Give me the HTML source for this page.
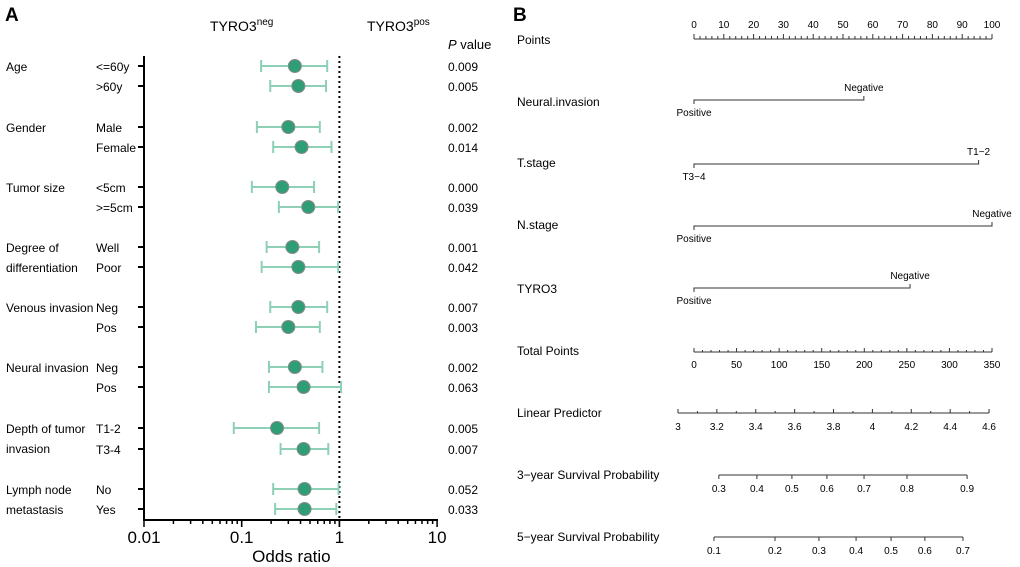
<!DOCTYPE html>
<html><head><meta charset="utf-8"><style>
body{margin:0;background:#fff;}
svg{display:block;font-family:"Liberation Sans",Arial,sans-serif;}
</style></head><body>
<svg id="c" width="1020" height="567" viewBox="0 0 1020 567" xmlns="http://www.w3.org/2000/svg">
<text x="5" y="21" font-size="19" font-weight="bold">A</text>
<text x="513" y="21" font-size="19" font-weight="bold">B</text>
<text x="210" y="31" font-size="14">TYRO3<tspan dy="-6" font-size="10">neg</tspan></text>
<text x="367" y="31" font-size="14">TYRO3<tspan dy="-6" font-size="10">pos</tspan></text>
<text x="448" y="49" font-size="13"><tspan font-style="italic">P</tspan> value</text>
<g id="forest"></g>
<g id="nomo"></g>
</svg>
<script>
const groups=["Age","","Gender","","Tumor size","","Degree of|differentiation","","Venous invasion","","Neural invasion","","Depth of tumor|invasion","","Lymph node|metastasis",""];
const subgroups=["<=60y",">60y","Male","Female","<5cm",">=5cm","Well","Poor","Neg","Pos","Neg","Pos","T1-2","T3-4","No","Yes"];
const orValues=[0.35,0.38,0.30,0.41,0.26,0.48,0.33,0.38,0.38,0.30,0.35,0.43,0.23,0.43,0.44,0.44];
const ciLow=[0.158,0.196,0.143,0.21,0.127,0.24,0.18,0.16,0.196,0.14,0.19,0.19,0.083,0.25,0.21,0.22];
const ciHigh=[0.75,0.73,0.63,0.83,0.55,0.97,0.62,0.97,0.75,0.63,0.67,1.04,0.62,0.77,0.98,0.93];
const pValues=["0.009","0.005","0.002","0.014","0.000","0.039","0.001","0.042","0.007","0.003","0.002","0.063","0.005","0.007","0.052","0.033"];
const xTicks=[0.01,0.1,1,10];
const rowY=[66,86,127,147,187,207,247,267,307,327,367,387,428,449,489,509];

const NS="http://www.w3.org/2000/svg";
function mk(p,t,a,txt){const e=document.createElementNS(NS,t);for(const k in a)e.setAttribute(k,a[k]);if(txt!==undefined)e.textContent=txt;p.appendChild(e);return e;}
const fx=v=>144+(Math.log10(v)+2)*97.7;
const F=document.getElementById('forest');
let e=mk(F,'line',{x1:144,y1:56,x2:144,y2:521,stroke:'#000','stroke-width':2});


e=mk(F,'line',{x1:143,y1:520,x2:438,y2:520,stroke:'#000','stroke-width':2});


e=mk(F,'line',{x1:fx(1),y1:56,x2:fx(1),y2:520,stroke:'#000','stroke-width':2,'stroke-dasharray':'2,3'});


for(let d=-2;d<1;d++)for(let m=1;m<=10;m++){const v=m*Math.pow(10,d);const x=fx(v);
 e=mk(F,'line',{x1:x,y1:520,x2:x,y2:m==1||m==10?527:524,stroke:'#000','stroke-width':1.5});
 
 }
xTicks.forEach(v=>{e=mk(F,'text',{x:fx(v),y:543,'font-size':17,'text-anchor':'middle'},String(v));
 
 });
e=mk(F,'text',{x:fx(1)-48,y:562,'font-size':17,'text-anchor':'middle'},'Odds ratio');


subgroups.forEach((s,i)=>{const y=rowY[i];
 if(groups[i]){const parts=groups[i].split('|');parts.forEach((p,j)=>{
  e=mk(F,'text',{x:6,y:y+5+j*20,'font-size':12},p);
  
  });}
 e=mk(F,'text',{x:96,y:y+5,'font-size':12},s);
 
 
 e=mk(F,'line',{x1:138,y1:y,x2:144,y2:y,stroke:'#000','stroke-width':2});
 
 
 const lo=fx(ciLow[i]),hi=fx(ciHigh[i]);
 e=mk(F,'path',{d:`M${lo},${y}H${hi}M${lo},${y-6}V${y+6}M${hi},${y-6}V${y+6}`,stroke:'#8dd0b6','stroke-width':2,fill:'none'});
 
 
 e=mk(F,'circle',{cx:fx(orValues[i]),cy:y,r:6.5,fill:'#2f9e77',stroke:'#8a8a8a','stroke-width':1});
 
 
 e=mk(F,'text',{x:448,y:y+5,'font-size':12},pValues[i]);
 
 
});

// Nomogram
const pointsTicks=[0,10,20,30,40,50,60,70,80,90,100];
const neuralPts=[57,0]; const tstagePts=[95.5,0]; const nstagePts=[100,0]; const tyroPts=[72.5,0];
const totalTicks=[0,50,100,150,200,250,300,350];
const lpTicks=[3,3.2,3.4,3.6,3.8,4,4.2,4.4,4.6];
const surv3Ticks=[0.3,0.4,0.5,0.6,0.7,0.8,0.9];
const surv3Lp=[3.21,3.406,3.586,3.766,3.957,4.178,4.487];
const surv5Ticks=[0.1,0.2,0.3,0.4,0.5,0.6,0.7];
const surv5Lp=[3.185,3.499,3.725,3.916,4.096,4.27,4.466];
const N=document.getElementById('nomo');
const px=v=>694+v*2.98, tx=v=>694+v*298/350, lx=v=>678+(v-3)*194.4;
function label(t,y){e=mk(N,'text',{x:517,y:y,'font-size':12},t);
 
 }
label('Points',44);
e=mk(N,'line',{x1:px(0),y1:39,x2:px(100),y2:39,stroke:'#333'});


for(let k=0;k<=50;k++){const x=px(k*2);e=mk(N,'line',{x1:x,y1:39,x2:x,y2:k%5==0?34:36,stroke:'#333'});
 
 }
pointsTicks.forEach(v=>{e=mk(N,'text',{x:px(v),y:28,'font-size':10,'text-anchor':'middle'},String(v));
 
 });
function catRow(name,y,pts,labs,ly){
 label(name,ly);
 const a=px(pts[1]),b=px(pts[0]);
 e=mk(N,'path',{d:`M${a},${y+4}V${y}H${b}V${y-4}`,stroke:'#333',fill:'none'});
 
 
 e=mk(N,'text',{x:b,y:y-9,'font-size':10,'text-anchor':'middle'},labs[0]);
 
 
 e=mk(N,'text',{x:a,y:y+16,'font-size':10,'text-anchor':'middle'},labs[1]);
 
 }
catRow('Neural.invasion',100,neuralPts,['Negative','Positive'],106);
catRow('T.stage',164,tstagePts,['T1−2','T3−4'],167);
catRow('N.stage',226,nstagePts,['Negative','Positive'],229);
catRow('TYRO3',288,tyroPts,['Negative','Positive'],293);
label('Total Points',355);
e=mk(N,'line',{x1:tx(0),y1:352,x2:tx(350),y2:352,stroke:'#333'});


for(let k=0;k<=35;k++){const x=tx(k*10);e=mk(N,'line',{x1:x,y1:352,x2:x,y2:k%5==0?348:350,stroke:'#333'});
 
 }
totalTicks.forEach(v=>{e=mk(N,'text',{x:tx(v),y:368,'font-size':10,'text-anchor':'middle'},String(v));
 
 });
label('Linear Predictor',417);
e=mk(N,'line',{x1:lx(3),y1:413,x2:lx(4.6),y2:413,stroke:'#333'});


for(let k=0;k<=16;k++){const x=lx(3+k*0.1);e=mk(N,'line',{x1:x,y1:413,x2:x,y2:k%2==0?409:411,stroke:'#333'});
 
 }
lpTicks.forEach(v=>{e=mk(N,'text',{x:lx(v),y:430,'font-size':10,'text-anchor':'middle'},String(v));
 
 });
function survRow(name,y,ticks,lps){
 label(name,y+4);
 e=mk(N,'line',{x1:lx(lps[0]),y1:y,x2:lx(lps[lps.length-1]),y2:y,stroke:'#333'});
 
 
 ticks.forEach((t,i)=>{const x=lx(lps[i]);
  e=mk(N,'line',{x1:x,y1:y,x2:x,y2:y+4,stroke:'#333'});
  
  
  e=mk(N,'text',{x:x,y:y+17,'font-size':10,'text-anchor':'middle'},String(t));
  
  });}
survRow('3−year Survival Probability',475,surv3Ticks,surv3Lp);
survRow('5−year Survival Probability',537,surv5Ticks,surv5Lp);
</script>
</body></html>
